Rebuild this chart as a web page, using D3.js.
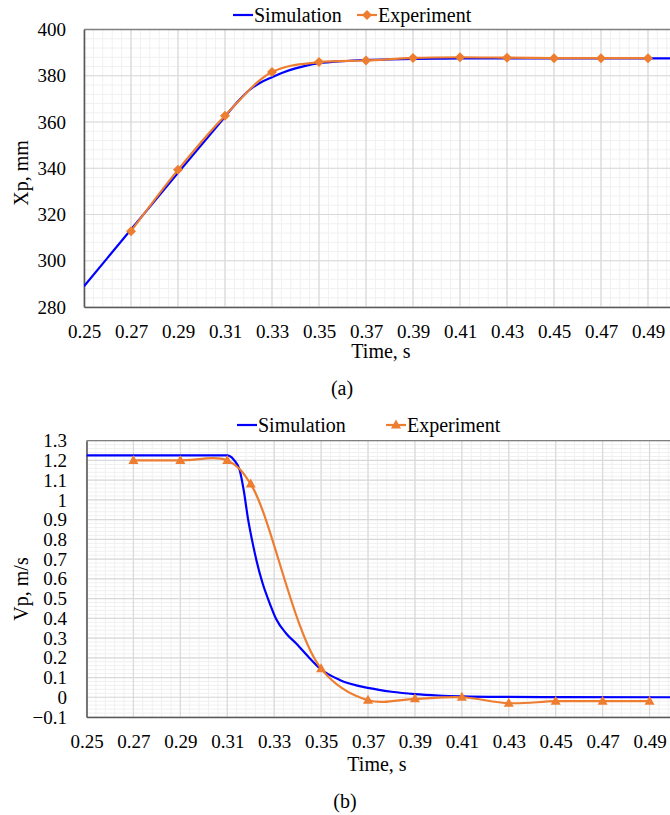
<!DOCTYPE html>
<html>
<head>
<meta charset="utf-8">
<script src="https://cdn.jsdelivr.net/npm/d3@7"></script>
<style>
  html, body { margin: 0; padding: 0; background: #fff; }
  svg { display: block; }
</style>
</head>
<body>
<svg id="chart" width="670" height="815" font-family="'Liberation Serif', 'Times New Roman', Times, serif"></svg>
<script>
// ---------- DATA ----------
const xTicks = [0.25, 0.27, 0.29, 0.31, 0.33, 0.35, 0.37, 0.39, 0.41, 0.43, 0.45, 0.47, 0.49];
const yTicksA = [280, 300, 320, 340, 360, 380, 400];
const yTicksB = [-0.1, 0, 0.1, 0.2, 0.3, 0.4, 0.5, 0.6, 0.7, 0.8, 0.9, 1, 1.1, 1.2, 1.3];
const seriesNames = ["Simulation", "Experiment"];

// (a) displacement
const timeSimA = [0.25, 0.27, 0.29, 0.31, 0.315, 0.32, 0.325, 0.33, 0.335, 0.34, 0.345, 0.35, 0.36, 0.37, 0.38, 0.39, 0.40, 0.41, 0.43, 0.45, 0.47, 0.50];
const xpSim    = [289.0, 313.5, 338.0, 362.3, 368.3, 373.5, 377.0, 379.4, 381.5, 383.2, 384.5, 385.4, 386.3, 386.8, 387.1, 387.3, 387.4, 387.5, 387.5, 387.5, 387.5, 387.5];
const timeExpA = [0.27, 0.29, 0.31, 0.33, 0.35, 0.37, 0.39, 0.41, 0.43, 0.45, 0.47, 0.49];
const xpExp    = [312.8, 339.3, 362.7, 381.6, 385.9, 386.6, 387.7, 388.0, 387.8, 387.6, 387.6, 387.6];

// (b) velocity
const timeSimB = [0.25, 0.31, 0.311, 0.313, 0.3153, 0.317, 0.3189, 0.3205, 0.3224, 0.325, 0.3281, 0.3309, 0.3352, 0.3394, 0.3451, 0.3494, 0.3579, 0.3706, 0.38, 0.39, 0.40, 0.41, 0.43, 0.45, 0.50];
const vpSim    = [1.226, 1.226, 1.222, 1.2, 1.15, 1.05, 0.9, 0.8, 0.696, 0.58, 0.476, 0.395, 0.322, 0.272, 0.198, 0.147, 0.088, 0.046, 0.028, 0.016, 0.009, 0.005, 0.002, 0.001, 0.0];
const timeExpB = [0.27, 0.29, 0.31, 0.32, 0.35, 0.37, 0.39, 0.41, 0.43, 0.45, 0.47, 0.49];
const vpExp    = [1.2, 1.2, 1.2, 1.08, 0.145, -0.015, -0.008, 0.0, -0.03, -0.02, -0.02, -0.02];

// ---------- STYLE ----------
const FONT = "'Liberation Serif', 'Times New Roman', Times, serif";
const BLUE = "#0000ff", ORANGE = "#ed7d31";
const svg = d3.select("#chart");

function panel(cfg) {
  const { left, top, right, bottom, yDomain, yTicks, yMinorStep, yFmt,
          tSim, vSim, tExp, vExp, marker, id, yTitle, yTitleY, xLabelBase,
          xTitleX, xTitleBase, tag, tagX, tagBase, legY, leg } = cfg;
  const x = d3.scaleLinear().domain([0.25, 0.5]).range([left, right]);
  const y = d3.scaleLinear().domain(yDomain).range([bottom, top]);
  const g = svg.append("g");

  // minor grid
  const xMinor = d3.range(0.25, 0.5001, 0.004);
  const yMinor = d3.range(yDomain[0], yDomain[1] + 1e-9, yMinorStep);
  g.append("g").selectAll("line").data(xMinor).join("line")
    .attr("x1", d => x(d)).attr("x2", d => x(d)).attr("y1", top).attr("y2", bottom)
    .attr("stroke", "#f0f0f0").attr("stroke-width", 1);
  g.append("g").selectAll("line").data(yMinor).join("line")
    .attr("x1", left).attr("x2", right).attr("y1", d => y(d)).attr("y2", d => y(d))
    .attr("stroke", "#f0f0f0").attr("stroke-width", 1);
  // major grid
  g.append("g").selectAll("line").data(xTicks).join("line")
    .attr("x1", d => x(d)).attr("x2", d => x(d)).attr("y1", top).attr("y2", bottom)
    .attr("stroke", "#d9d9d9").attr("stroke-width", 1.2);
  g.append("g").selectAll("line").data(yTicks).join("line")
    .attr("x1", left).attr("x2", right).attr("y1", d => y(d)).attr("y2", d => y(d))
    .attr("stroke", "#d9d9d9").attr("stroke-width", 1.2);

  // top border
  g.append("line").attr("x1", left).attr("x2", right).attr("y1", top).attr("y2", top)
    .attr("stroke", "#808080").attr("stroke-width", 1.3);

  // axes
  const xAxis = d3.axisBottom(x).tickValues(xTicks).tickFormat(d3.format(".2f"))
    .tickSize(0).tickPadding(xLabelBase - bottom - 13.5);
  const gx = g.append("g").attr("transform", `translate(0,${bottom})`).call(xAxis)
    .attr("font-family", FONT).attr("font-size", 19);
  gx.select(".domain").attr("stroke", "#595959").attr("stroke-width", 1.6);
  gx.selectAll("text").attr("fill", "#000");

  const yAxis = d3.axisLeft(y).tickValues(yTicks).tickFormat(yFmt)
    .tickSize(0).tickPadding(cfg.yPad);
  const gy = g.append("g").attr("transform", `translate(${left},0)`).call(yAxis)
    .attr("font-family", FONT).attr("font-size", 19);
  gy.select(".domain").attr("stroke", "#595959").attr("stroke-width", 1.6);
  gy.selectAll("text").attr("fill", "#000");

  // clip
  svg.append("clipPath").attr("id", id).append("rect")
    .attr("x", left).attr("y", top - 8).attr("width", right - left).attr("height", bottom - top + 16);

  const plot = g.append("g").attr("clip-path", `url(#${id})`);
  const simData = tSim.map((t, i) => [t, vSim[i]]);
  const expData = tExp.map((t, i) => [t, vExp[i]]);
  plot.append("path").datum(simData)
    .attr("d", d3.line().x(d => x(d[0])).y(d => y(d[1])).curve(d3.curveMonotoneX))
    .attr("fill", "none").attr("stroke", BLUE).attr("stroke-width", 2.2);
  plot.append("path").datum(expData)
    .attr("d", d3.line().x(d => x(d[0])).y(d => y(d[1])).curve(d3.curveCatmullRom.alpha(0.5)))
    .attr("fill", "none").attr("stroke", ORANGE).attr("stroke-width", 2.2);
  plot.append("g").selectAll("path").data(expData).join("path")
    .attr("transform", d => `translate(${x(d[0])},${y(d[1])})`)
    .attr("d", marker).attr("fill", ORANGE);

  // titles
  g.append("text").attr("transform", `translate(28,${yTitleY}) rotate(-90)`)
    .attr("text-anchor", "middle").attr("font-size", 20).attr("font-family", FONT).text(yTitle);
  g.append("text").attr("x", xTitleX).attr("y", xTitleBase)
    .attr("text-anchor", "middle").attr("font-size", 20).attr("font-family", FONT).text("Time, s");
  g.append("text").attr("x", tagX).attr("y", tagBase)
    .attr("text-anchor", "middle").attr("font-size", 20).attr("font-family", FONT).text(tag);

  // legend
  const lg = g.append("g").attr("font-family", FONT).attr("font-size", 20);
  lg.append("line").attr("x1", leg.simX).attr("x2", leg.simX + 20).attr("y1", legY).attr("y2", legY)
    .attr("stroke", BLUE).attr("stroke-width", 2.2);
  lg.append("text").attr("x", leg.simX + 21).attr("y", legY + 7).text(seriesNames[0]);
  lg.append("line").attr("x1", leg.expX).attr("x2", leg.expX + 20).attr("y1", legY).attr("y2", legY)
    .attr("stroke", ORANGE).attr("stroke-width", 2.2);
  lg.append("path").attr("transform", `translate(${leg.expX + 10},${legY})`).attr("d", marker).attr("fill", ORANGE);
  lg.append("text").attr("x", leg.expX + 21).attr("y", legY + 7).text(seriesNames[1]);
}

const diamond = "M0,-5L5,0L0,5L-5,0Z";
const triangle = "M0,-5.5L5,3.5L-5,3.5Z";

panel({
  id: "clipA", left: 84, top: 29.5, right: 671.5, bottom: 307,
  yDomain: [280, 400], yTicks: yTicksA, yMinorStep: 4, yFmt: d3.format("d"), yPad: 18,
  tSim: timeSimA, vSim: xpSim, tExp: timeExpA, vExp: xpExp, marker: diamond,
  yTitle: "Xp, mm", yTitleY: 173, xLabelBase: 338, xTitleX: 381, xTitleBase: 358,
  tag: "(a)", tagX: 342, tagBase: 395, legY: 15, leg: { simX: 233, expX: 357 }
});

panel({
  id: "clipB", left: 86.5, top: 440.7, right: 673, bottom: 717,
  yDomain: [-0.1, 1.3], yTicks: yTicksB, yMinorStep: 0.02, yFmt: d => d3.format("")(+d.toFixed(1)), yPad: 19.5,
  tSim: timeSimB, vSim: vpSim, tExp: timeExpB, vExp: vpExp, marker: triangle,
  yTitle: "Vp, m/s", yTitleY: 589, xLabelBase: 748, xTitleX: 377, xTitleBase: 771,
  tag: "(b)", tagX: 345, tagBase: 808, legY: 425, leg: { simX: 237, expX: 386 }
});
</script>
</body>
</html>
